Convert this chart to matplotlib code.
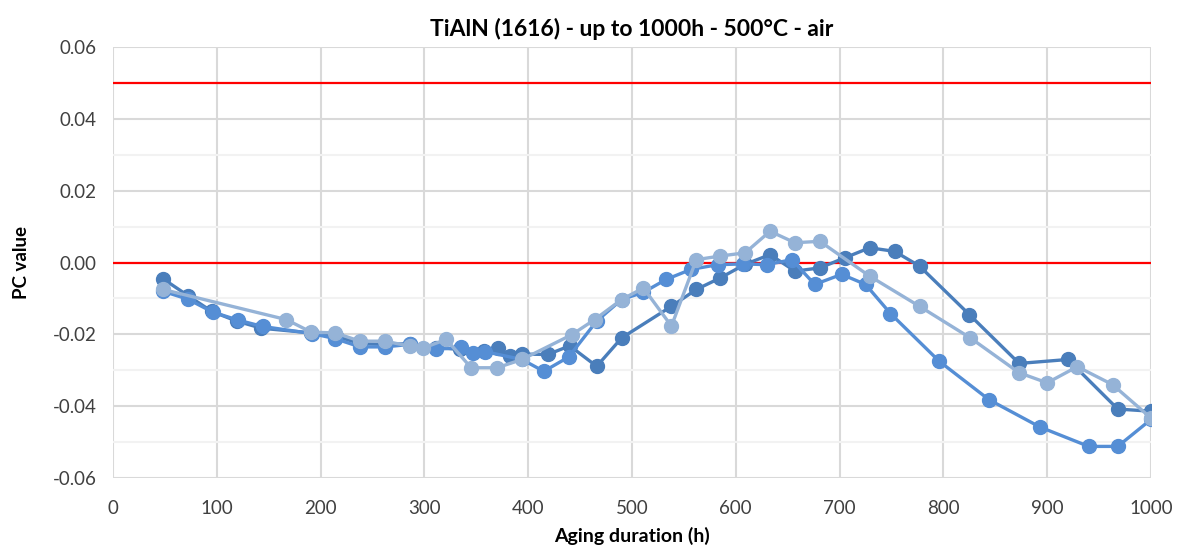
import numpy as np
import matplotlib.pyplot as plt
from matplotlib.ticker import MultipleLocator, FuncFormatter

plt.rcParams['font.family'] = ['Lato', 'DejaVu Sans']

# serie 1 (azul escuro)
dark_x = [48, 72, 95, 119, 143, 191, 215, 238, 262, 286, 311, 334, 357, 371, 382, 394,
          419, 440, 466, 490, 538, 562, 585, 609, 633, 657, 681, 705, 729, 753, 777,
          825, 873, 920, 968, 1000]
dark_y = [-0.0045, -0.0092, -0.0136, -0.0163, -0.0183, -0.0196, -0.0205, -0.0226, -0.0228,
          -0.0226, -0.0237, -0.0242, -0.0247, -0.0238, -0.0261, -0.0255, -0.0256, -0.0232,
          -0.0289, -0.0210, -0.0122, -0.0075, -0.0043, -0.0005, 0.0022, -0.0024, -0.0015,
          0.0013, 0.0041, 0.0031, -0.0010, -0.0145, -0.0281, -0.0270, -0.0408, -0.0414]

# serie 2 (azul medio)
med_x = [48, 72, 96, 120, 144, 192, 214, 238, 262, 286, 311, 335, 347, 358, 394, 415,
         439, 466, 490, 511, 533, 557, 583, 607, 630, 654, 676, 702, 725, 749, 796,
         844, 893, 940, 968, 1000]
med_y = [-0.0080, -0.0102, -0.0138, -0.0160, -0.0178, -0.0198, -0.0212, -0.0235, -0.0235,
         -0.0228, -0.0242, -0.0236, -0.0252, -0.0248, -0.0270, -0.0303, -0.0263, -0.0163,
         -0.0103, -0.0083, -0.0047, -0.0019, -0.0006, -0.0004, -0.0006, 0.0008, -0.0061,
         -0.0033, -0.0061, -0.0142, -0.0275, -0.0382, -0.0458, -0.0512, -0.0512, -0.0437]

# serie 3 (azul claro)
light_x = [48, 167, 191, 214, 238, 262, 286, 299, 321, 345, 370, 394, 442, 464, 490, 511,
           538, 562, 585, 609, 633, 657, 681, 729, 777, 826, 873, 900, 929, 963, 1000]
light_y = [-0.0075, -0.0159, -0.0194, -0.0196, -0.0219, -0.0219, -0.0233, -0.0238, -0.0214,
           -0.0293, -0.0293, -0.0270, -0.0201, -0.0159, -0.0103, -0.0071, -0.0177, 0.0008,
           0.0018, 0.0027, 0.0087, 0.0055, 0.0059, -0.0038, -0.0122, -0.0210, -0.0307,
           -0.0335, -0.0290, -0.0340, -0.0433]

limits = [0.05, 0.0]

fig = plt.figure(figsize=(11.8, 5.49), dpi=100)
ax = fig.add_axes([0.0958, 0.1293, 0.8796, 0.7851])

for y in limits:
    ax.axhline(y, color="#FF0000", lw=1.6, zorder=2)

ax.plot(dark_x, dark_y, "-o", color="#4A7EBB", lw=2.4, ms=10, zorder=3)
ax.plot(med_x, med_y, "-o", color="#558ED5", lw=2.4, ms=10, zorder=4)
ax.plot(light_x, light_y, "-o", color="#95B3D7", lw=2.4, ms=10, zorder=5)

ax.set_xlim(0, 1000)
ax.set_ylim(-0.06, 0.06)
ax.xaxis.set_major_locator(MultipleLocator(100))
ax.yaxis.set_major_locator(MultipleLocator(0.02))
ax.yaxis.set_minor_locator(MultipleLocator(0.01))
ax.yaxis.set_major_formatter(FuncFormatter(lambda v, p: f"{v:.2f}".replace("\u2212", "-")))

ax.grid(True, which="major", color="#D9D9D9", lw=1.5, zorder=0)
ax.grid(True, which="minor", axis="y", color="#F2F2F2", lw=1.5, zorder=0)
ax.set_axisbelow(True)
for s in ax.spines.values():
    s.set_visible(False)
ax.tick_params(which="both", length=0, labelsize=13.5, labelcolor="#404040")
ax.tick_params(axis="x", pad=16)
ax.tick_params(axis="y", pad=12)

ax.set_title("TiAlN (1616) - up to 1000h - 500°C - air", fontsize=16.5, fontweight="bold", pad=8)
ax.set_xlabel("Aging duration (h)", fontsize=14, fontweight="bold", labelpad=7)
ax.set_ylabel("PC value", fontsize=13.5, fontweight="bold", labelpad=16)

fig.savefig("out.png", dpi=100, facecolor="white")
